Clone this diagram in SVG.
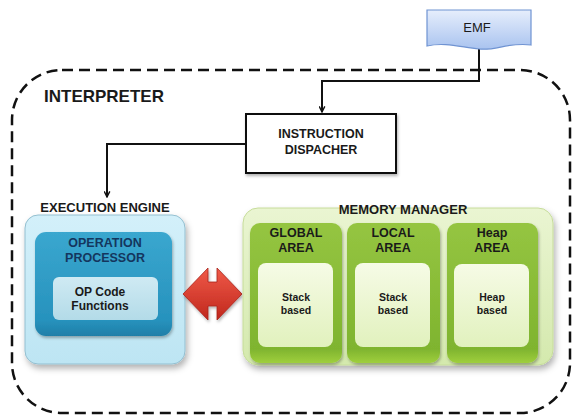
<svg xmlns="http://www.w3.org/2000/svg" width="572" height="415" viewBox="0 0 572 415">
  <defs>
    <linearGradient id="gEmf" x1="0" y1="0" x2="0" y2="1">
      <stop offset="0" stop-color="#e6eefc"/>
      <stop offset="1" stop-color="#a9c3ef"/>
    </linearGradient>
    <linearGradient id="gBlueOuter" x1="0" y1="0" x2="0" y2="1">
      <stop offset="0" stop-color="#d3f0fa"/>
      <stop offset="1" stop-color="#bde5f3"/>
    </linearGradient>
    <linearGradient id="gBlueInner" x1="0" y1="0" x2="0" y2="1">
      <stop offset="0" stop-color="#3aa7cf"/>
      <stop offset="0.85" stop-color="#2792bd"/>
      <stop offset="1" stop-color="#1f7fa8"/>
    </linearGradient>
    <linearGradient id="gBlueCore" x1="0" y1="0" x2="0" y2="1">
      <stop offset="0" stop-color="#cfeaf3"/>
      <stop offset="1" stop-color="#b3dbe8"/>
    </linearGradient>
    <linearGradient id="gRed" x1="0" y1="0" x2="0" y2="1">
      <stop offset="0" stop-color="#f05a48"/>
      <stop offset="1" stop-color="#c0271d"/>
    </linearGradient>
    <linearGradient id="gGreenOuter" x1="0" y1="0" x2="0" y2="1">
      <stop offset="0" stop-color="#eaf5d2"/>
      <stop offset="1" stop-color="#d4e9ad"/>
    </linearGradient>
    <linearGradient id="gGreenCol" x1="0" y1="0" x2="0" y2="1">
      <stop offset="0" stop-color="#95c541"/>
      <stop offset="0.9" stop-color="#7fb42f"/>
      <stop offset="1" stop-color="#9fcf3d"/>
    </linearGradient>
    <linearGradient id="gGreenCore" x1="0" y1="0" x2="0" y2="1">
      <stop offset="0" stop-color="#f6fbe6"/>
      <stop offset="1" stop-color="#e1f1bd"/>
    </linearGradient>
    <filter id="shadow" x="-10%" y="-10%" width="130%" height="130%">
      <feDropShadow dx="2" dy="4" stdDeviation="3" flood-color="#000" flood-opacity="0.3"/>
    </filter>
    <filter id="softShadow" x="-10%" y="-10%" width="130%" height="130%">
      <feDropShadow dx="1" dy="2" stdDeviation="1.5" flood-color="#000" flood-opacity="0.3"/>
    </filter>
    <marker id="arrow" viewBox="0 0 10 10" refX="9" refY="5" markerWidth="7" markerHeight="7" orient="auto" markerUnits="userSpaceOnUse">
      <path d="M1,1 L9,5 L1,9" fill="none" stroke="#111" stroke-width="2"/>
    </marker>
    <style>
      text { font-family: "Liberation Sans", Arial, sans-serif; font-weight: bold; fill: #1a1a1a; text-anchor: middle; }
      .title { font-size: 17px; text-anchor: start; }
      .lbl { font-size: 13px; }
      .two { font-size: 12.5px; }
      .mid { font-size: 12px; }
      .small { font-size: 10.5px; }
      .navy { fill: #14365e; }
      .conn { fill: none; stroke: #111; stroke-width: 2; }
    </style>
  </defs>

  <rect width="572" height="415" fill="#ffffff"/>

  <!-- interpreter boundary -->
  <g id="interpreter">
    <rect x="12" y="70" width="558" height="343" rx="50" ry="50" fill="none" stroke="#111" stroke-width="2.5" stroke-dasharray="11 6"/>
    <text class="title" x="44" y="102">INTERPRETER</text>
  </g>

  <!-- connectors -->
  <g id="connectors">
    <path class="conn" d="M479,47 V81 H322 V112" marker-end="url(#arrow)"/>
    <path class="conn" d="M246,144 H107 V197" marker-end="url(#arrow)"/>
  </g>

  <!-- EMF document -->
  <g id="emf">
    <path d="M427,10 H531 V45 C508,42 496,51 479,49 C460,47 445,42 427,46 Z" fill="url(#gEmf)" stroke="#6f93d2" stroke-width="1.2"/>
    <text class="lbl" x="477" y="32" style="font-weight:normal">EMF</text>
  </g>

  <!-- instruction dispatcher -->
  <g id="dispatcher">
    <rect x="246" y="114" width="150" height="59" fill="#fff" stroke="#111" stroke-width="2" filter="url(#softShadow)"/>
    <text class="two" x="321" y="138">INSTRUCTION</text>
    <text class="two" x="321" y="154">DISPACHER</text>
  </g>

  <!-- execution engine -->
  <g id="execution-engine">
    <rect x="25" y="215" width="160" height="149" rx="13" fill="url(#gBlueOuter)" stroke="#93bfd0" stroke-width="1" filter="url(#shadow)"/>
    <text class="lbl" x="105" y="212">EXECUTION ENGINE</text>
    <g id="operation-processor">
      <rect x="35" y="232" width="137" height="104" rx="11" fill="url(#gBlueInner)" filter="url(#softShadow)"/>
      <text class="two navy" x="105" y="247">OPERATION</text>
      <text class="two navy" x="105" y="262">PROCESSOR</text>
    </g>
    <g id="op-code">
      <rect x="53" y="277" width="105" height="43" rx="6" fill="url(#gBlueCore)"/>
      <text class="mid" x="100" y="296">OP Code</text>
      <text class="mid" x="100" y="310">Functions</text>
    </g>
  </g>

  <!-- exchange between engine and memory -->
  <g id="exchange">
    <polygon points="183,294 208,268 208,282 217,282 217,268 242,294 217,320 217,306 208,306 208,320" fill="url(#gRed)" stroke="#a8221a" stroke-width="0.8" stroke-linejoin="round" filter="url(#softShadow)"/>
  </g>

  <!-- memory manager -->
  <g id="memory-manager">
    <rect x="243" y="208" width="310" height="157" rx="15" fill="url(#gGreenOuter)" stroke="#c6dc9a" stroke-width="1" filter="url(#shadow)"/>
    <text class="lbl" x="403" y="214">MEMORY MANAGER</text>

    <g id="global-area">
      <rect x="250" y="223" width="92" height="140" rx="10" fill="url(#gGreenCol)" filter="url(#softShadow)"/>
      <text class="two" x="296" y="237">GLOBAL</text>
      <text class="two" x="296" y="251.5">AREA</text>
      <rect x="258" y="263" width="75" height="84" rx="8" fill="url(#gGreenCore)"/>
      <text class="small" x="296" y="301">Stack</text>
      <text class="small" x="296" y="313.5">based</text>
    </g>

    <g id="local-area">
      <rect x="347" y="223" width="93" height="140" rx="10" fill="url(#gGreenCol)" filter="url(#softShadow)"/>
      <text class="two" x="393" y="237">LOCAL</text>
      <text class="two" x="393" y="251.5">AREA</text>
      <rect x="355" y="263" width="75" height="84" rx="8" fill="url(#gGreenCore)"/>
      <text class="small" x="393" y="301">Stack</text>
      <text class="small" x="393" y="313.5">based</text>
    </g>

    <g id="heap-area">
      <rect x="447" y="223" width="91" height="140" rx="10" fill="url(#gGreenCol)" filter="url(#softShadow)"/>
      <text class="two" x="492" y="237">Heap</text>
      <text class="two" x="492" y="251.5">AREA</text>
      <rect x="454" y="264" width="75" height="83" rx="8" fill="url(#gGreenCore)"/>
      <text class="small" x="492" y="301">Heap</text>
      <text class="small" x="492" y="313.5">based</text>
    </g>
  </g>
</svg>
